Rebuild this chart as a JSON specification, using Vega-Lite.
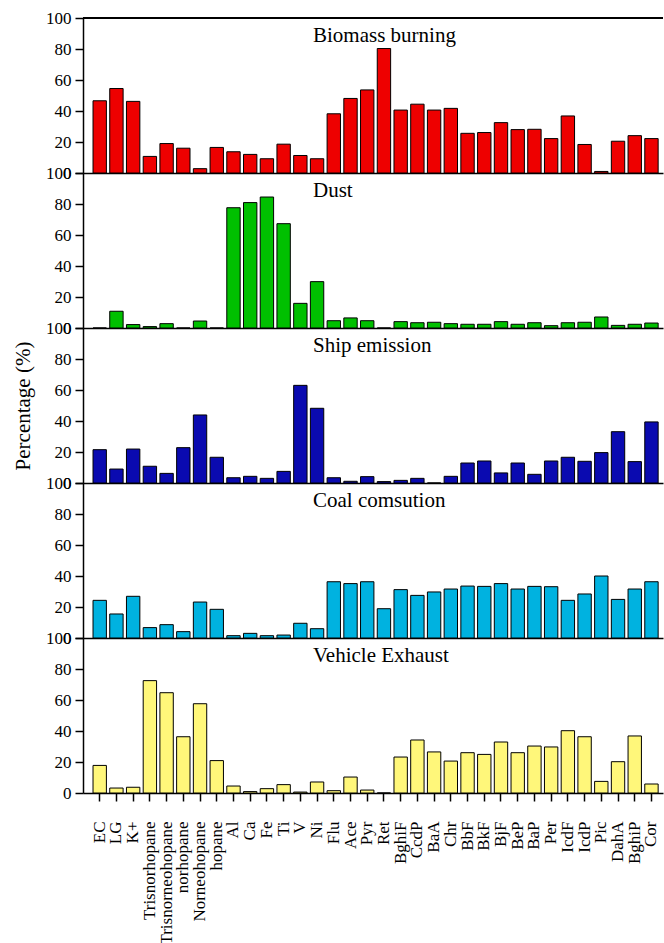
{
  "$schema": "https://vega.github.io/schema/vega-lite/v6.json",
  "padding": {"left": 12, "top": 9, "right": 0, "bottom": 0},
  "background": "white",
  "spacing": 0,
  "bounds": "flush",
  "config": {
    "view": {"stroke": null},
    "font": "Liberation Serif",
    "axis": {"labelFont": "Liberation Serif", "titleFont": "Liberation Serif", "labelColor": "black", "titleColor": "black", "domainColor": "black", "tickColor": "black", "domainWidth": 1.5, "tickWidth": 1.5, "tickSize": 8, "grid": false, "labelFontSize": 17, "titleFontWeight": "normal", "labelOverlap": false},
    "title": {"font": "Liberation Serif", "fontSize": 21, "fontWeight": "normal", "color": "black", "anchor": "start", "frame": "group", "dx": 230, "offset": -37, "baseline": "alphabetic"}
  },
  "datasets": {
    "bb": [
      {"c": "EC", "v": 46.6}, {"c": "LG", "v": 54.5}, {"c": "K+", "v": 46.2}, {"c": "Trisnorhopane", "v": 10.7}, {"c": "Trisnorneohopane", "v": 19.0}, {"c": "norhopane", "v": 16.0}, {"c": "Norneohopane", "v": 2.8}, {"c": "hopane", "v": 16.5}, {"c": "Al", "v": 13.7}, {"c": "Ca", "v": 12.0}, {"c": "Fe", "v": 9.2}, {"c": "Ti", "v": 18.6}, {"c": "V", "v": 11.3}, {"c": "Ni", "v": 9.2}, {"c": "Flu", "v": 38.2}, {"c": "Ace", "v": 48.1}, {"c": "Pyr", "v": 53.6}, {"c": "Ret", "v": 80.3}, {"c": "BghiF", "v": 40.6}, {"c": "CcdP", "v": 44.4}, {"c": "BaA", "v": 40.6}, {"c": "Chr", "v": 41.7}, {"c": "BbF", "v": 25.6}, {"c": "BkF", "v": 26.1}, {"c": "BjF", "v": 32.5}, {"c": "BeP", "v": 28.0}, {"c": "BaP", "v": 28.2}, {"c": "Per", "v": 22.2}, {"c": "IcdF", "v": 36.8}, {"c": "IcdP", "v": 18.4}, {"c": "Pic", "v": 1.0}, {"c": "DahA", "v": 20.5}, {"c": "BghiP", "v": 24.1}, {"c": "Cor", "v": 22.2}
    ],
    "dust": [
      {"c": "EC", "v": 0}, {"c": "LG", "v": 10.8}, {"c": "K+", "v": 2.2}, {"c": "Trisnorhopane", "v": 0.9}, {"c": "Trisnorneohopane", "v": 2.8}, {"c": "norhopane", "v": 0}, {"c": "Norneohopane", "v": 4.5}, {"c": "hopane", "v": 0}, {"c": "Al", "v": 77.6}, {"c": "Ca", "v": 80.9}, {"c": "Fe", "v": 84.5}, {"c": "Ti", "v": 67.3}, {"c": "V", "v": 15.9}, {"c": "Ni", "v": 29.9}, {"c": "Flu", "v": 4.7}, {"c": "Ace", "v": 6.5}, {"c": "Pyr", "v": 4.7}, {"c": "Ret", "v": 0}, {"c": "BghiF", "v": 4.1}, {"c": "CcdP", "v": 3.4}, {"c": "BaA", "v": 3.7}, {"c": "Chr", "v": 2.8}, {"c": "BbF", "v": 2.4}, {"c": "BkF", "v": 2.4}, {"c": "BjF", "v": 4.1}, {"c": "BeP", "v": 2.4}, {"c": "BaP", "v": 3.4}, {"c": "Per", "v": 1.5}, {"c": "IcdF", "v": 3.4}, {"c": "IcdP", "v": 3.7}, {"c": "Pic", "v": 7.1}, {"c": "DahA", "v": 1.7}, {"c": "BghiP", "v": 2.4}, {"c": "Cor", "v": 3.2}
    ],
    "ship": [
      {"c": "EC", "v": 21.5}, {"c": "LG", "v": 9.0}, {"c": "K+", "v": 21.9}, {"c": "Trisnorhopane", "v": 10.8}, {"c": "Trisnorneohopane", "v": 6.2}, {"c": "norhopane", "v": 22.8}, {"c": "Norneohopane", "v": 43.9}, {"c": "hopane", "v": 16.6}, {"c": "Al", "v": 3.4}, {"c": "Ca", "v": 4.3}, {"c": "Fe", "v": 3.0}, {"c": "Ti", "v": 7.5}, {"c": "V", "v": 63.0}, {"c": "Ni", "v": 48.2}, {"c": "Flu", "v": 3.4}, {"c": "Ace", "v": 1.1}, {"c": "Pyr", "v": 4.1}, {"c": "Ret", "v": 0.9}, {"c": "BghiF", "v": 1.7}, {"c": "CcdP", "v": 3.0}, {"c": "BaA", "v": 0}, {"c": "Chr", "v": 4.3}, {"c": "BbF", "v": 12.9}, {"c": "BkF", "v": 14.2}, {"c": "BjF", "v": 6.5}, {"c": "BeP", "v": 12.9}, {"c": "BaP", "v": 5.6}, {"c": "Per", "v": 14.2}, {"c": "IcdF", "v": 16.6}, {"c": "IcdP", "v": 14.0}, {"c": "Pic", "v": 19.6}, {"c": "DahA", "v": 33.1}, {"c": "BghiP", "v": 13.8}, {"c": "Cor", "v": 39.4}
    ],
    "coal": [
      {"c": "EC", "v": 24.3}, {"c": "LG", "v": 15.5}, {"c": "K+", "v": 26.9}, {"c": "Trisnorhopane", "v": 6.7}, {"c": "Trisnorneohopane", "v": 8.6}, {"c": "norhopane", "v": 4.1}, {"c": "Norneohopane", "v": 23.2}, {"c": "hopane", "v": 18.5}, {"c": "Al", "v": 1.5}, {"c": "Ca", "v": 3.0}, {"c": "Fe", "v": 1.5}, {"c": "Ti", "v": 1.9}, {"c": "V", "v": 9.5}, {"c": "Ni", "v": 6.0}, {"c": "Flu", "v": 36.3}, {"c": "Ace", "v": 35.1}, {"c": "Pyr", "v": 36.3}, {"c": "Ret", "v": 18.9}, {"c": "BghiF", "v": 31.2}, {"c": "CcdP", "v": 27.5}, {"c": "BaA", "v": 29.7}, {"c": "Chr", "v": 31.6}, {"c": "BbF", "v": 33.5}, {"c": "BkF", "v": 33.3}, {"c": "BjF", "v": 35.1}, {"c": "BeP", "v": 31.6}, {"c": "BaP", "v": 33.3}, {"c": "Per", "v": 33.1}, {"c": "IcdF", "v": 24.3}, {"c": "IcdP", "v": 28.4}, {"c": "Pic", "v": 40.0}, {"c": "DahA", "v": 24.9}, {"c": "BghiP", "v": 31.6}, {"c": "Cor", "v": 36.3}
    ],
    "vehicle": [
      {"c": "EC", "v": 17.8}, {"c": "LG", "v": 3.2}, {"c": "K+", "v": 3.7}, {"c": "Trisnorhopane", "v": 72.5}, {"c": "Trisnorneohopane", "v": 64.7}, {"c": "norhopane", "v": 36.3}, {"c": "Norneohopane", "v": 57.6}, {"c": "hopane", "v": 20.9}, {"c": "Al", "v": 4.5}, {"c": "Ca", "v": 0.9}, {"c": "Fe", "v": 2.8}, {"c": "Ti", "v": 5.4}, {"c": "V", "v": 0.6}, {"c": "Ni", "v": 7.1}, {"c": "Flu", "v": 1.5}, {"c": "Ace", "v": 10.3}, {"c": "Pyr", "v": 1.9}, {"c": "Ret", "v": 0}, {"c": "BghiF", "v": 23.2}, {"c": "CcdP", "v": 34.2}, {"c": "BaA", "v": 26.5}, {"c": "Chr", "v": 20.6}, {"c": "BbF", "v": 26.0}, {"c": "BkF", "v": 24.9}, {"c": "BjF", "v": 32.9}, {"c": "BeP", "v": 26.0}, {"c": "BaP", "v": 30.3}, {"c": "Per", "v": 29.7}, {"c": "IcdF", "v": 40.2}, {"c": "IcdP", "v": 36.3}, {"c": "Pic", "v": 7.5}, {"c": "DahA", "v": 20.2}, {"c": "BghiP", "v": 36.8}, {"c": "Cor", "v": 5.8}
    ]
  },
  "vconcat": [
    {
      "width": 580, "height": 155,
      "data": {"name": "bb"},
      "title": {"text": "Biomass burning"},
      "layer": [
        {
          "mark": {"type": "bar", "color": "#ee0000", "stroke": "black", "strokeWidth": 1},
          "encoding": {
            "x": {"field": "c", "type": "nominal", "sort": null, "scale": {"paddingInner": 0.2, "paddingOuter": 0.445, "align": 0.674}, "axis": {"labels": false, "ticks": false, "title": null}},
            "y": {"field": "v", "type": "quantitative", "scale": {"domain": [0, 100], "nice": false}, "axis": {"values": [0, 20, 40, 60, 80, 100], "title": null, "labelPadding": 4, "labelOverlap": false}}
          }
        },
        {
          "mark": {"type": "rule", "color": "black", "strokeWidth": 1.5},
          "encoding": {
            "y": {"datum": 100, "type": "quantitative", "scale": {"domain": [0, 100], "nice": false}, "axis": {"values": [0, 20, 40, 60, 80, 100], "title": null, "labelPadding": 4, "labelOverlap": false}}
          }
        }
      ]
    },
    {
      "width": 580, "height": 155,
      "data": {"name": "dust"},
      "title": {"text": "Dust"},
      "mark": {"type": "bar", "color": "#00c000", "stroke": "black", "strokeWidth": 1},
      "encoding": {
        "x": {"field": "c", "type": "nominal", "sort": null, "scale": {"paddingInner": 0.2, "paddingOuter": 0.445, "align": 0.674}, "axis": {"labels": false, "ticks": false, "title": null}},
        "y": {"field": "v", "type": "quantitative", "scale": {"domain": [0, 100], "nice": false}, "axis": {"values": [0, 20, 40, 60, 80, 100], "title": null, "labelPadding": 4}}
      }
    },
    {
      "width": 580, "height": 155,
      "data": {"name": "ship"},
      "title": {"text": "Ship emission"},
      "mark": {"type": "bar", "color": "#0a0ab0", "stroke": "black", "strokeWidth": 1},
      "encoding": {
        "x": {"field": "c", "type": "nominal", "sort": null, "scale": {"paddingInner": 0.2, "paddingOuter": 0.445, "align": 0.674}, "axis": {"labels": false, "ticks": false, "title": null}},
        "y": {"field": "v", "type": "quantitative", "scale": {"domain": [0, 100], "nice": false}, "axis": {"values": [0, 20, 40, 60, 80, 100], "title": "Percentage (%)", "titleFontSize": 21, "titlePadding": 12, "labelPadding": 4}}
      }
    },
    {
      "width": 580, "height": 155,
      "data": {"name": "coal"},
      "title": {"text": "Coal comsution"},
      "mark": {"type": "bar", "color": "#00b2e0", "stroke": "black", "strokeWidth": 1},
      "encoding": {
        "x": {"field": "c", "type": "nominal", "sort": null, "scale": {"paddingInner": 0.2, "paddingOuter": 0.445, "align": 0.674}, "axis": {"labels": false, "ticks": false, "title": null}},
        "y": {"field": "v", "type": "quantitative", "scale": {"domain": [0, 100], "nice": false}, "axis": {"values": [0, 20, 40, 60, 80, 100], "title": null, "labelPadding": 4}}
      }
    },
    {
      "width": 580, "height": 155,
      "data": {"name": "vehicle"},
      "title": {"text": "Vehicle Exhaust"},
      "mark": {"type": "bar", "color": "#fff77a", "stroke": "black", "strokeWidth": 1},
      "encoding": {
        "x": {"field": "c", "type": "nominal", "sort": null, "scale": {"paddingInner": 0.2, "paddingOuter": 0.445, "align": 0.674}, "axis": {"labelAngle": -90, "labelPadding": 20, "title": null}},
        "y": {"field": "v", "type": "quantitative", "scale": {"domain": [0, 100], "nice": false}, "axis": {"values": [0, 20, 40, 60, 80, 100], "title": null, "labelPadding": 4}}
      }
    }
  ]
}
